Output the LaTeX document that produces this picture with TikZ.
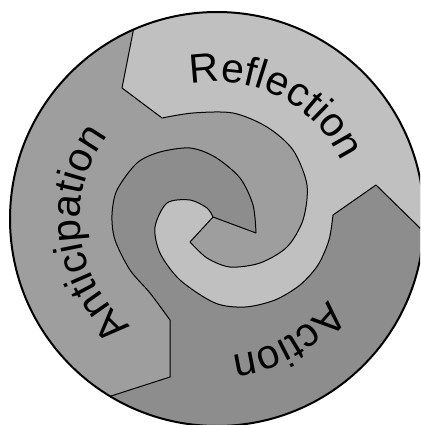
\documentclass[tikz,border=0pt]{standalone}
\usepackage{fontspec}
\setmainfont{Liberation Sans}
\usetikzlibrary{decorations.text}
\definecolor{reflc}{HTML}{C0C0C0}
\definecolor{antic}{HTML}{9E9E9E}
\definecolor{actc}{HTML}{8D8D8D}
\tikzset{
  edgeline/.style={draw=black, line width=1pt, line join=round},
  rimline/.style={draw=black, line width=2pt},
  arclabel/.style={decorate, decoration={text along path, text align=center, text={#1}}}
}
\begin{document}
\begin{tikzpicture}[x=1pt,y=-1pt]
\useasboundingbox (0,0) rectangle (420,425);
\begin{scope}
\clip (0,0) rectangle (420,425);
\begin{scope}
\clip (217,219) circle (207);
\fill[antic] (217,219) circle (207);
% Reflection
\fill[reflc] (137,10) -- (133,32) -- (122,88) -- (162,118)
  -- plot[smooth] coordinates {(162,118) (193,113) (233,113) (267,127) (293,150) (307,185) (303,220) (287,247) (260,263) (230,267) (207,258) (190,242)}
  -- (213,217)
  -- plot[smooth] coordinates {(213,217) (207,208) (190,200) (167,203) (155,227) (160,253) (180,280) (215,303) (245,307) (275,300) (300,285) (318,265) (329,240) (333,215)}
  -- (376,185) -- (470,277) -- (470,-40) -- (140,-40) -- cycle;
% Action
\fill[actc] (60,413) -- (108,397) -- (170,377) -- (170,320)
  -- plot[smooth] coordinates {(170,320) (150,293) (130,270) (115,240) (112,215) (117,190) (137,163) (160,152) (190,148) (215,157) (240,178) (253,205) (256,233)}
  -- (213,217)
  -- plot[smooth] coordinates {(213,217) (207,208) (190,200) (167,203) (155,227) (160,253) (180,280) (215,303) (245,307) (275,300) (300,285) (318,265) (329,240) (333,215)}
  -- (376,185) -- (470,277) -- (470,470) -- (60,470) -- cycle;
% boundaries
\path[edgeline] (137,10) -- (133,32) -- (122,88) -- (162,118)
  -- plot[smooth] coordinates {(162,118) (193,113) (233,113) (267,127) (293,150) (307,185) (303,220) (287,247) (260,263) (230,267) (207,258) (190,242)}
  -- (213,217) -- (256,233)
  -- plot[smooth] coordinates {(256,233) (253,205) (240,178) (215,157) (190,148) (160,152) (137,163) (117,190) (112,215) (115,240) (130,270) (150,293) (170,320)}
  -- (170,377) -- (108,397) -- (60,413);
\path[edgeline] (213,217)
  -- plot[smooth] coordinates {(213,217) (207,208) (190,200) (167,203) (155,227) (160,253) (180,280) (215,303) (245,307) (275,300) (300,285) (318,265) (329,240) (333,215)}
  -- (376,185) -- (470,277);
\end{scope}
\path[rimline] (217,219) circle (207);
\end{scope}
\begin{scope}[x=1pt,y=1pt,shift={(217,-219)}]
\path[arclabel={|\fontsize{41}{44}\selectfont|Reflection}] (123:137) arc[start angle=123, end angle=3, radius=137];
\path[arclabel={|\fontsize{41}{44}\selectfont|Action}] (0:137) arc[start angle=0, end angle=-120, radius=137];
\path[arclabel={|\fontsize{41}{44}\selectfont|Anticipation}] (247:137) arc[start angle=247, end angle=127, radius=137];
\end{scope}
\end{tikzpicture}
\end{document}
